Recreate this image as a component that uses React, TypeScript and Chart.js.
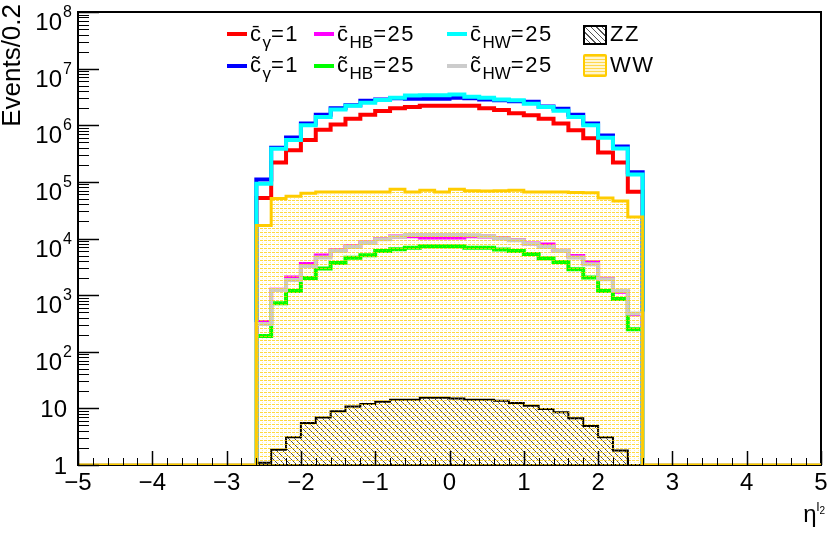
import React, { useEffect, useRef } from 'react';
import { Chart, registerables } from 'chart.js';
import type { Plugin } from 'chart.js';

Chart.register(...registerables);

const FONT = '"Liberation Sans", Arial, Helvetica, sans-serif';

// eta bins of width 0.2 that hold events (the rest of -5..5 is empty)
const binWidth = 0.2;
const etaBinCenters = [
  -2.5, -2.3, -2.1, -1.9, -1.7, -1.5, -1.3, -1.1, -0.9, -0.7, -0.5, -0.3, -0.1,
  0.1, 0.3, 0.5, 0.7, 0.9, 1.1, 1.3, 1.5, 1.7, 1.9, 2.1, 2.3, 2.5,
];

// events / 0.2 for each sample
const cBarGamma = [
  52000, 220000, 360000, 550000, 830000, 1030000, 1300000, 1530000, 1780000, 2000000, 2100000, 2200000, 2200000,
  2200000, 2200000, 2000000, 1850000, 1630000, 1500000, 1300000, 1070000, 820000, 590000, 330000, 220000, 67000,
];
const cTildeGamma = [
  110000, 400000, 610000, 1070000, 1530000, 2000000, 2250000, 2700000, 2850000, 3000000, 2950000, 2950000, 2950000,
  3050000, 3000000, 2850000, 2750000, 2650000, 2600000, 2150000, 1960000, 1530000, 1070000, 660000, 420000, 148000,
];
const cBarHW = [
  93000, 385000, 550000, 1000000, 1400000, 1900000, 2200000, 2500000, 2800000, 3050000, 3350000, 3400000, 3400000,
  3500000, 3200000, 3050000, 2850000, 2750000, 2400000, 2100000, 1800000, 1400000, 1000000, 600000, 390000, 135000,
];
const cBarHB = [
  335, 1250, 2040, 3550, 5000, 6200, 7300, 8500, 9800, 10800, 11000, 10400, 10400,
  10400, 11000, 10800, 10200, 9400, 8200, 7800, 6100, 4900, 3800, 1950, 1150, 460,
];
const cTildeHB = [
  190, 720, 1180, 2000, 2950, 3700, 4550, 5050, 6000, 6450, 6900, 7300, 7300,
  7300, 6900, 6900, 6400, 6000, 5300, 4500, 3860, 2870, 2040, 1180, 850, 250,
];
const cTildeHW = [
  310, 1230, 1850, 3240, 4600, 6000, 7100, 8300, 9700, 10700, 11500, 11500, 11500,
  11500, 11400, 11000, 10000, 9300, 8100, 7100, 6000, 4600, 3520, 1900, 1190, 473,
];
const wwEvents = [
  17000, 51000, 56000, 63000, 66000, 66000, 66000, 66000, 66000, 74000, 66000, 71000, 66000,
  74000, 70000, 69000, 70000, 71000, 66000, 66000, 66000, 65000, 64000, 52000, 46000, 24000,
];
const zzEvents = [
  1.1, 1.86, 3.1, 5.5, 6.9, 8.9, 10.8, 11.9, 13.1, 14.2, 14.2, 15.4, 15.4,
  15.0, 14.2, 14.2, 13.6, 12.5, 11.1, 9.7, 8.5, 6.7, 4.9, 3.1, 1.8, 1.0,
];

// axes
const xMin = -5;
const xMax = 5;
const yMin = 1; // log axis floor, empty bins are drawn here (as ROOT does)
const yMax = 1e8;
const xTickValues = [-5, -4, -3, -2, -1, 0, 1, 2, 3, 4, 5];
const xTickLabels = ['\u22125', '\u22124', '\u22123', '\u22122', '\u22121', '0', '1', '2', '3', '4', '5'];
const yTickValues = [1, 10, 1e2, 1e3, 1e4, 1e5, 1e6, 1e7, 1e8];
const yTickBases = ['1', '10', '10', '10', '10', '10', '10', '10', '10'];
const yTickExponents = ['', '', '2', '3', '4', '5', '6', '7', '8'];

const legendEntries = [
  { accent: '\u0304', sub: '\u03b3', value: '1', color: '#ff0000' },
  { accent: '\u0303', sub: '\u03b3', value: '1', color: '#0000ff' },
  { accent: '\u0304', sub: 'HB', value: '25', color: '#ff00ff' },
  { accent: '\u0303', sub: 'HB', value: '25', color: '#00ff00' },
  { accent: '\u0304', sub: 'HW', value: '25', color: '#00ffff' },
  { accent: '\u0303', sub: 'HW', value: '25', color: '#cccccc' },
];

// step outline: empty range on both sides, then one point per bin low edge
const histogram = (values: number[]) => {
  const pts = [{ x: xMin, y: yMin }];
  values.forEach((v, i) => pts.push({ x: etaBinCenters[i] - binWidth / 2, y: Math.max(v, yMin) }));
  pts.push({ x: etaBinCenters[etaBinCenters.length - 1] + binWidth / 2, y: yMin });
  pts.push({ x: xMax, y: yMin });
  return pts;
};

const makeWWPattern = (ctx: CanvasRenderingContext2D) => {
  const c = document.createElement('canvas');
  c.width = 8;
  c.height = 4;
  const p = c.getContext('2d')!;
  p.fillStyle = 'rgba(255, 204, 0, 0.75)';
  p.fillRect(0, 0, 3, 1);
  p.fillRect(4, 0, 3, 1);
  p.fillStyle = 'rgba(255, 204, 0, 0.35)';
  p.fillRect(2, 2, 1, 1);
  p.fillRect(6, 2, 1, 1);
  return ctx.createPattern(c, 'repeat')!;
};

const makeZZPattern = (ctx: CanvasRenderingContext2D) => {
  const c = document.createElement('canvas');
  c.width = 6;
  c.height = 6;
  const p = c.getContext('2d')!;
  p.strokeStyle = 'rgba(0, 0, 0, 0.7)';
  p.lineWidth = 1;
  for (const off of [-6, 0, 6]) {
    p.beginPath();
    p.moveTo(off - 1, -1);
    p.lineTo(off + 7, 7);
    p.stroke();
  }
  return ctx.createPattern(c, 'repeat')!;
};

// ROOT-like frame, inner tick marks and tick labels
const rootAxes: Plugin<'line'> = {
  id: 'rootAxes',
  beforeDatasetsDraw(chart) {
    const { ctx, chartArea: a } = chart;
    ctx.save();
    ctx.strokeStyle = '#000';
    ctx.lineWidth = 2;
    ctx.strokeRect(a.left, a.top, a.right - a.left, a.bottom - a.top);
    ctx.restore();
  },
  afterDatasetsDraw(chart) {
    const { ctx, chartArea: a, scales } = chart;
    const xs = scales.x;
    const ys = scales.y;
    ctx.save();
    ctx.strokeStyle = '#000';
    // x ticks every 0.2, major at integers
    for (let k = 0; k <= 50; k++) {
      const v = xMin + k * binWidth;
      const px = Math.round(xs.getPixelForValue(v)) + 0.5;
      const major = k % 5 === 0;
      ctx.lineWidth = major ? 1.5 : 1;
      ctx.beginPath();
      ctx.moveTo(px, a.bottom);
      ctx.lineTo(px, a.bottom - (major ? 14 : 7));
      ctx.stroke();
    }
    // y ticks, decades and 2..9 subdivisions
    for (let d = 0; d < 8; d++) {
      for (let m = 1; m <= 9; m++) {
        const py = Math.round(ys.getPixelForValue(m * Math.pow(10, d))) + 0.5;
        const major = m === 1;
        ctx.lineWidth = major ? 1.5 : 1;
        ctx.beginPath();
        ctx.moveTo(a.left, py);
        ctx.lineTo(a.left + (major ? 21 : 11), py);
        ctx.stroke();
      }
    }
    const pTop = Math.round(ys.getPixelForValue(yMax)) + 0.5;
    ctx.lineWidth = 1.5;
    ctx.beginPath();
    ctx.moveTo(a.left, pTop);
    ctx.lineTo(a.left + 21, pTop);
    ctx.stroke();

    ctx.fillStyle = '#000';
    ctx.textBaseline = 'alphabetic';
    ctx.font = `24px ${FONT}`;
    ctx.textAlign = 'center';
    xTickValues.forEach((v, i) => {
      ctx.fillText(xTickLabels[i], xs.getPixelForValue(v), a.bottom + 25);
    });
    yTickValues.forEach((v, i) => {
      const py = ys.getPixelForValue(v);
      if (!yTickExponents[i]) {
        ctx.font = `24px ${FONT}`;
        ctx.textAlign = 'right';
        ctx.fillText(yTickBases[i], a.left - 11, py + 8.5);
      } else {
        ctx.font = `24px ${FONT}`;
        ctx.textAlign = 'right';
        ctx.fillText(yTickBases[i], a.left - 16, py + 18);
        ctx.font = `16px ${FONT}`;
        ctx.textAlign = 'left';
        ctx.fillText(yTickExponents[i], a.left - 15, py + 5);
      }
    });
    ctx.restore();
  },
};

const LegendText: React.FC<{ accent: string; sub: string; value: string }> = ({ accent, sub, value }) => (
  <span>
    {'c' + accent}
    <span style={{ fontSize: 17, position: 'relative', top: 7, letterSpacing: 0 }}>{sub}</span>={value}
  </span>
);

const App: React.FC = () => {
  const canvasRef = useRef<HTMLCanvasElement>(null);
  const chartRef = useRef<Chart<'line'> | null>(null);

  useEffect(() => {
    if (!canvasRef.current) return;
    const ctx = canvasRef.current.getContext('2d');
    if (!ctx) return;
    if (chartRef.current) chartRef.current.destroy();

    const line = (values: number[], color: string, order: number) => ({
      data: histogram(values),
      borderColor: color,
      borderWidth: 4,
      fill: false,
      order,
    });

    chartRef.current = new Chart(ctx, {
      type: 'line',
      data: {
        datasets: [
          {
            data: histogram(wwEvents),
            borderColor: '#ffcc00',
            borderWidth: 3,
            backgroundColor: makeWWPattern(ctx),
            fill: 'start',
            order: 0,
          },
          {
            data: histogram(zzEvents),
            borderColor: '#000000',
            borderWidth: 2,
            backgroundColor: makeZZPattern(ctx),
            fill: 'start',
            order: 1,
          },
          line(cTildeHW, '#cccccc', 2),
          line(cBarHW, '#00ffff', 3),
          line(cTildeHB, '#00ff00', 4),
          line(cBarHB, '#ff00ff', 5),
          line(cTildeGamma, '#0000ff', 6),
          line(cBarGamma, '#ff0000', 7),
        ] as any,
      },
      options: {
        responsive: false,
        animation: false,
        events: [],
        layout: { padding: { left: 78, right: 9, top: 12, bottom: 70 } },
        elements: {
          point: { radius: 0 },
          line: { stepped: true, tension: 0, borderJoinStyle: 'miter', borderCapStyle: 'butt' },
        },
        plugins: {
          legend: { display: false },
          tooltip: { enabled: false },
        },
        scales: {
          x: { type: 'linear', min: xMin, max: xMax, display: false },
          y: { type: 'logarithmic', min: yMin, max: yMax, display: false },
        },
      },
      plugins: [rootAxes],
    });

    return () => {
      if (chartRef.current) {
        chartRef.current.destroy();
        chartRef.current = null;
      }
    };
  }, []);

  const colX = [{ mark: 227, text: 250 }, { mark: 314, text: 337 }, { mark: 447, text: 470 }];
  const rowY = [{ mark: 34, text: 22.5 }, { mark: 66, text: 53.5 }];

  return (
    <div
      style={{
        position: 'absolute',
        left: 0,
        top: 0,
        width: 830,
        height: 535,
        background: '#fff',
        fontFamily: FONT,
        color: '#000',
        overflow: 'hidden',
      }}
    >
      <canvas ref={canvasRef} width={830} height={535} style={{ position: 'absolute', left: 0, top: 0 }} />

      {/* y axis title */}
      <div
        style={{
          position: 'absolute',
          left: -4,
          top: 146,
          width: 142,
          height: 30,
          lineHeight: '30px',
          fontSize: 26,
          textAlign: 'right',
          whiteSpace: 'nowrap',
          transform: 'rotate(-90deg)',
          transformOrigin: 'top left',
        }}
      >
        Events/0.2
      </div>

      {/* x axis title */}
      <div
        style={{
          position: 'absolute',
          right: 5,
          top: 502,
          height: 24,
          lineHeight: '24px',
          fontSize: 24,
          whiteSpace: 'nowrap',
        }}
      >
        {'\u03b7'}
        <span style={{ fontSize: 13, position: 'relative', top: -11 }}>
          l<span style={{ fontSize: 10, position: 'relative', top: 3 }}>2</span>
        </span>
      </div>

      {/* legend */}
      {legendEntries.map((e, i) => {
        const col = colX[Math.floor(i / 2)];
        const row = rowY[i % 2];
        return (
          <React.Fragment key={i}>
            <div
              style={{
                position: 'absolute',
                left: col.mark,
                top: row.mark - 2,
                width: 20,
                height: 4,
                background: e.color,
              }}
            />
            <div
              style={{
                position: 'absolute',
                left: col.text,
                top: row.text,
                fontSize: 22,
                lineHeight: '22px',
                letterSpacing: 1.5,
                whiteSpace: 'nowrap',
              }}
            >
              <LegendText accent={e.accent} sub={e.sub} value={e.value} />
            </div>
          </React.Fragment>
        );
      })}
      <div
        style={{
          position: 'absolute',
          left: 583,
          top: 25,
          width: 20,
          height: 16,
          border: '2.5px solid #000',
          background: 'repeating-linear-gradient(45deg, #fff 0px, #fff 3px, #555 3px, #555 4px)',
        }}
      />
      <div
        style={{
          position: 'absolute',
          left: 610,
          top: 22.5,
          fontSize: 22,
          lineHeight: '22px',
          letterSpacing: 1.5,
        }}
      >
        ZZ
      </div>
      <div
        style={{
          position: 'absolute',
          left: 583,
          top: 54,
          width: 20,
          height: 19,
          border: '2.5px solid #ffcc00',
          borderRadius: 2,
          background: 'repeating-linear-gradient(180deg, #ffd84d 0px, #ffd84d 1px, #fff6d0 1px, #fff6d0 3px)',
        }}
      />
      <div
        style={{
          position: 'absolute',
          left: 610,
          top: 53.5,
          fontSize: 22,
          lineHeight: '22px',
          letterSpacing: 1.5,
        }}
      >
        WW
      </div>
    </div>
  );
};

export default App;
